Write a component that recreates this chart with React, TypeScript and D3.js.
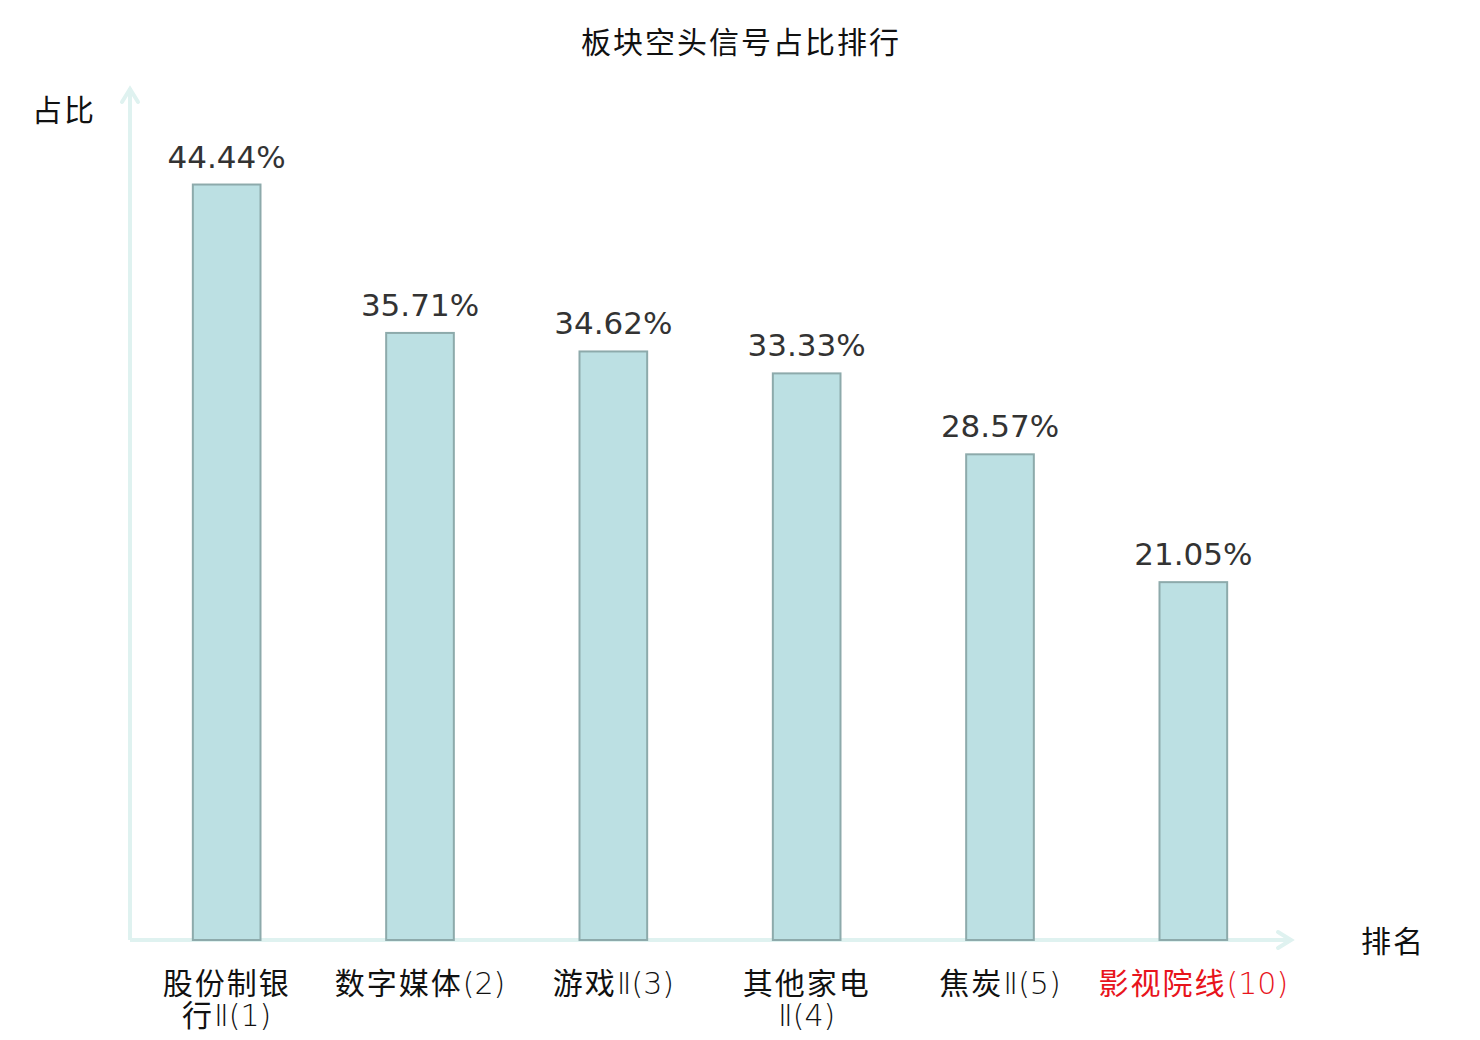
import { useEffect, useRef } from "react";
import { select, scaleLinear, scaleBand } from "d3";

const WIDTH = 1480;
const HEIGHT = 1040;

// 板块数据
const names = ["股份制银行Ⅱ", "数字媒体", "游戏Ⅱ", "其他家电Ⅱ", "焦炭Ⅱ", "影视院线"];
const ranks = [1, 2, 3, 4, 5, 10];
const values = [44.44, 35.71, 34.62, 33.33, 28.57, 21.05];
const highlighted = [false, false, false, false, false, true];

const title = "板块空头信号占比排行";
const yName = "占比";
const xName = "排名";

const CJK = '"Noto Sans CJK SC", "Noto Sans", sans-serif';
const NUM = '"DejaVu Sans", sans-serif';

const marginLeft = 130,
  marginRight = 190,
  marginTop = 90,
  marginBottom = 100;

// 每4个字换一行，排名放在最后一行
const labelLines = (name: string, rank: number) => {
  const chars = Array.from(name);
  const lines: string[] = [];
  for (let i = 0; i < chars.length; i += 4) lines.push(chars.slice(i, i + 4).join(""));
  lines[lines.length - 1] += `(${rank})`;
  return lines;
};

// 中文和其它字符分开，其它字符用细体
const runs = (s: string) => s.match(/[\u4e00-\u9fff]+|[^\u4e00-\u9fff]+/g) || [];
const isCJK = (s: string) => /[\u4e00-\u9fff]/.test(s);

const cjkText = (g: any, text: string, xPos: number, yPos: number) =>
  g
    .append("text")
    .text(text)
    .attr("x", xPos)
    .attr("y", yPos)
    .attr("dx", 1)
    .attr("text-anchor", "middle")
    .attr("font-family", CJK)
    .attr("font-size", 30)
    .attr("letter-spacing", 2)
    .attr("fill", "#111");

const DrawChart = (el: SVGSVGElement) => {
  const svg = select(el);
  svg.selectAll("*").remove();

  const baseY = HEIGHT - marginBottom;
  const x = scaleBand<string>(names, [marginLeft, WIDTH - marginRight]);
  const y = scaleLinear([0, 50], [baseY, marginTop]);
  const barW = x.bandwidth() * 0.35;

  cjkText(svg, title, WIDTH / 2, 53);

  // 坐标轴
  const axisColor = "#dff2f0";
  const axes = svg.append("g").attr("stroke", axisColor).attr("stroke-width", 4).attr("fill", "none");
  axes
    .append("line")
    .attr("x1", marginLeft)
    .attr("y1", baseY)
    .attr("x2", marginLeft)
    .attr("y2", marginTop - 2);
  axes
    .append("path")
    .attr("stroke-linecap", "round")
    .attr("d", `M${marginLeft - 8},${marginTop + 12}L${marginLeft},${marginTop - 1}L${marginLeft + 8},${marginTop + 12}`);
  const xEnd = WIDTH - marginRight;
  axes
    .append("line")
    .attr("x1", marginLeft)
    .attr("y1", baseY)
    .attr("x2", xEnd + 1)
    .attr("y2", baseY);
  axes
    .append("path")
    .attr("stroke-linecap", "round")
    .attr("d", `M${xEnd - 12},${baseY - 8}L${xEnd + 1},${baseY}L${xEnd - 12},${baseY + 8}`);

  cjkText(svg, yName, 63, 121);
  cjkText(svg, xName, 1392, baseY + 12);

  // 柱形
  svg
    .append("g")
    .selectAll("rect")
    .data(values)
    .enter()
    .append("rect")
    .attr("x", (d, i) => (x(names[i]) as number) + (x.bandwidth() - barW) / 2)
    .attr("y", (d) => y(d))
    .attr("width", barW)
    .attr("height", (d) => baseY - y(d))
    .attr("fill", "#bce0e3")
    .attr("stroke", "#8daaab")
    .attr("stroke-width", 2);

  // 数值注记
  svg
    .append("g")
    .selectAll("text")
    .data(values)
    .enter()
    .append("text")
    .text((d) => `${d.toFixed(2)}%`)
    .attr("x", (d, i) => (x(names[i]) as number) + x.bandwidth() / 2)
    .attr("y", (d) => y(d) - 17)
    .attr("text-anchor", "middle")
    .attr("font-family", NUM)
    .attr("font-size", 31)
    .attr("fill", "#333");

  // 类目标签
  names.forEach((name, i) => {
    const cx = (x(name) as number) + x.bandwidth() / 2;
    const g = svg.append("g").attr("fill", highlighted[i] ? "#e8141c" : "#111");
    labelLines(name, ranks[i]).forEach((line, j) => {
      const t = g
        .append("text")
        .attr("x", cx)
        .attr("y", baseY + 54 + j * 32)
        .attr("text-anchor", "middle")
        .attr("font-size", 30);
      runs(line).forEach((r) => {
        const cjk = isCJK(r);
        t.append("tspan")
          .text(r)
          .attr("font-family", cjk ? CJK : NUM)
          .attr("font-weight", cjk ? 400 : 200)
          .attr("letter-spacing", cjk ? 2 : 0);
      });
    });
  });
};

const App = () => {
  const ref = useRef<SVGSVGElement>(null);
  useEffect(() => {
    if (ref.current) DrawChart(ref.current);
  }, []);
  return (
    <svg
      ref={ref}
      width={WIDTH}
      height={HEIGHT}
      style={{ position: "absolute", left: 0, top: 0, background: "#fff" }}
    />
  );
};
export default App;
